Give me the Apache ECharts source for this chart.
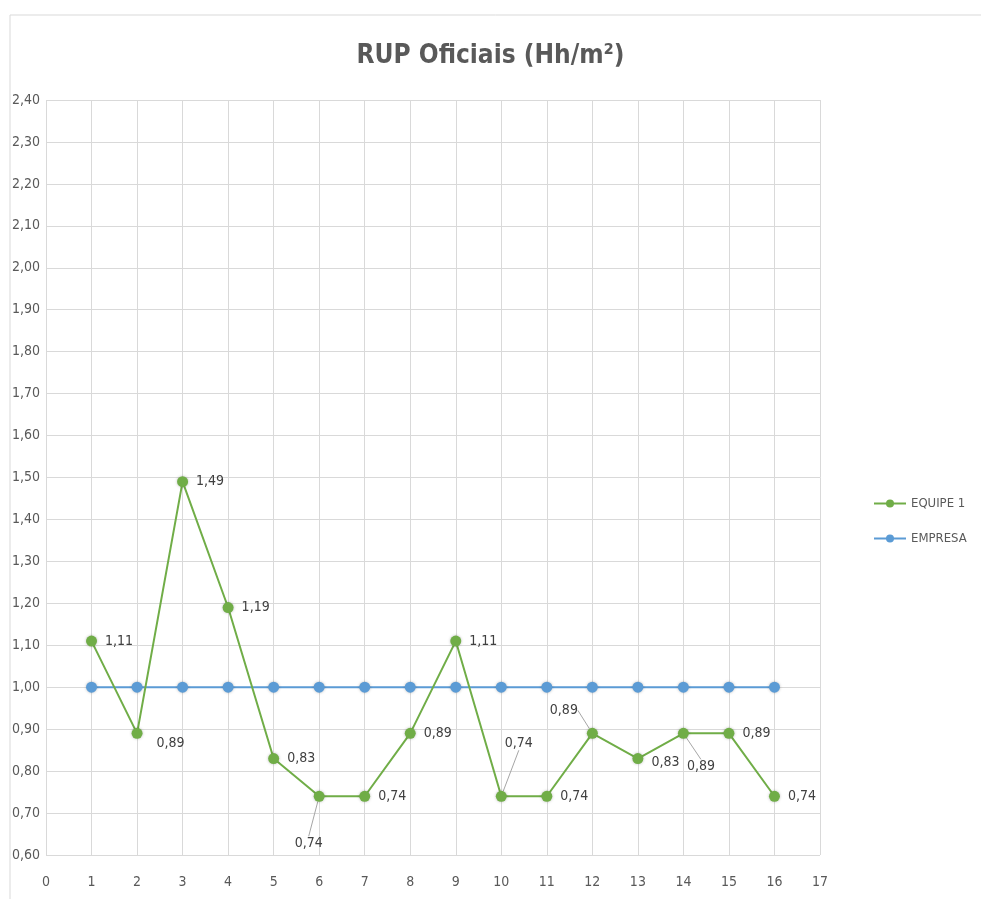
<!DOCTYPE html>
<html>
<head>
<meta charset="utf-8">
<script src="https://cdn.jsdelivr.net/npm/echarts@6/dist/echarts.min.js"></script>
<style>html,body{margin:0;padding:0;background:#fff;}#c{width:981px;height:899px;}</style>
</head>
<body>
<div id="c"></div>
<script>
var xValues = [1,2,3,4,5,6,7,8,9,10,11,12,13,14,15,16];
var equipe1 = [1.11,0.89,1.49,1.19,0.83,0.74,0.74,0.89,1.11,0.74,0.74,0.89,0.83,0.89,0.89,0.74];
var empresa = [1,1,1,1,1,1,1,1,1,1,1,1,1,1,1,1];
var seriesNames = ['EQUIPE 1','EMPRESA'];
var titleText = 'RUP Oficiais (Hh/m²)';

var FONT = "'Liberation Sans Narrow','DejaVu Sans Condensed','Open Sans',sans-serif";
function fmt(v){ return v.toFixed(2).replace('.', ','); }

// label offsets (style, not data)
var labelOffsets = {
  1:[6,10],5:[-38,47],9:[-10,-53],11:[-56,-23],12:[0,4],13:[-10,33]
};
var leaderIdx = {5:1,9:1,11:1,13:1};

var chart = echarts.init(document.getElementById('c'));
chart.setOption({
  backgroundColor:'#fff',
  animation:false,
  title:{text:titleText,left:'center',top:38,textStyle:{fontFamily:FONT,fontSize:26,fontWeight:'bold',color:'#595959'}},
  graphic:[{type:'polyline',shape:{points:[[10,899],[10,15],[981,15]]},style:{stroke:'#d9d9d9',lineWidth:1,fill:null},silent:true}],
  legend:{
    orient:'vertical',left:868,top:492,itemGap:22,itemWidth:32,itemHeight:10,
    textStyle:{fontFamily:FONT,fontSize:13,color:'#595959'},
    data:seriesNames
  },
  grid:{left:46,right:161,top:100,bottom:44},
  xAxis:{
    type:'value',min:0,max:17,interval:1,
    axisLine:{show:false},axisTick:{show:false},
    axisLabel:{fontFamily:FONT,fontSize:14,color:'#595959',margin:20},
    splitLine:{show:true,lineStyle:{color:'#d9d9d9',width:1}}
  },
  yAxis:{
    type:'value',min:0.6,max:2.4,interval:0.1,
    axisLine:{show:false},axisTick:{show:false},
    axisLabel:{fontFamily:FONT,fontSize:14,color:'#595959',margin:6,formatter:function(v){return fmt(v);}},
    splitLine:{show:true,lineStyle:{color:'#d9d9d9',width:1}}
  },
  series:[
    {
      name:seriesNames[1],type:'line',z:2,
      data:xValues.map(function(x,i){return [x,empresa[i]];}),
      symbol:'circle',symbolSize:11,
      itemStyle:{color:'#5B9BD5',shadowColor:'rgba(0,0,0,0.25)',shadowBlur:3},
      lineStyle:{color:'#5B9BD5',width:2}
    },
    {
      name:seriesNames[0],type:'line',z:3,
      data:xValues.map(function(x,i){
        return {value:[x,equipe1[i]],labelLine:{show:!!leaderIdx[i],lineStyle:{color:'#a6a6a6',width:1}}};
      }),
      symbol:'circle',symbolSize:11,
      itemStyle:{color:'#70AD47',shadowColor:'rgba(0,0,0,0.25)',shadowBlur:3},
      lineStyle:{color:'#70AD47',width:2},
      label:{show:true,position:'right',distance:8,fontFamily:FONT,fontSize:14,color:'#404040',
        formatter:function(p){return fmt(p.value[1]);}},
      labelLine:{show:false},
      labelLayout:function(p){
        var o = labelOffsets[p.dataIndex] || [0,0];
        return {dx:o[0],dy:o[1]};
      }
    }
  ]
});
</script>
</body>
</html>
